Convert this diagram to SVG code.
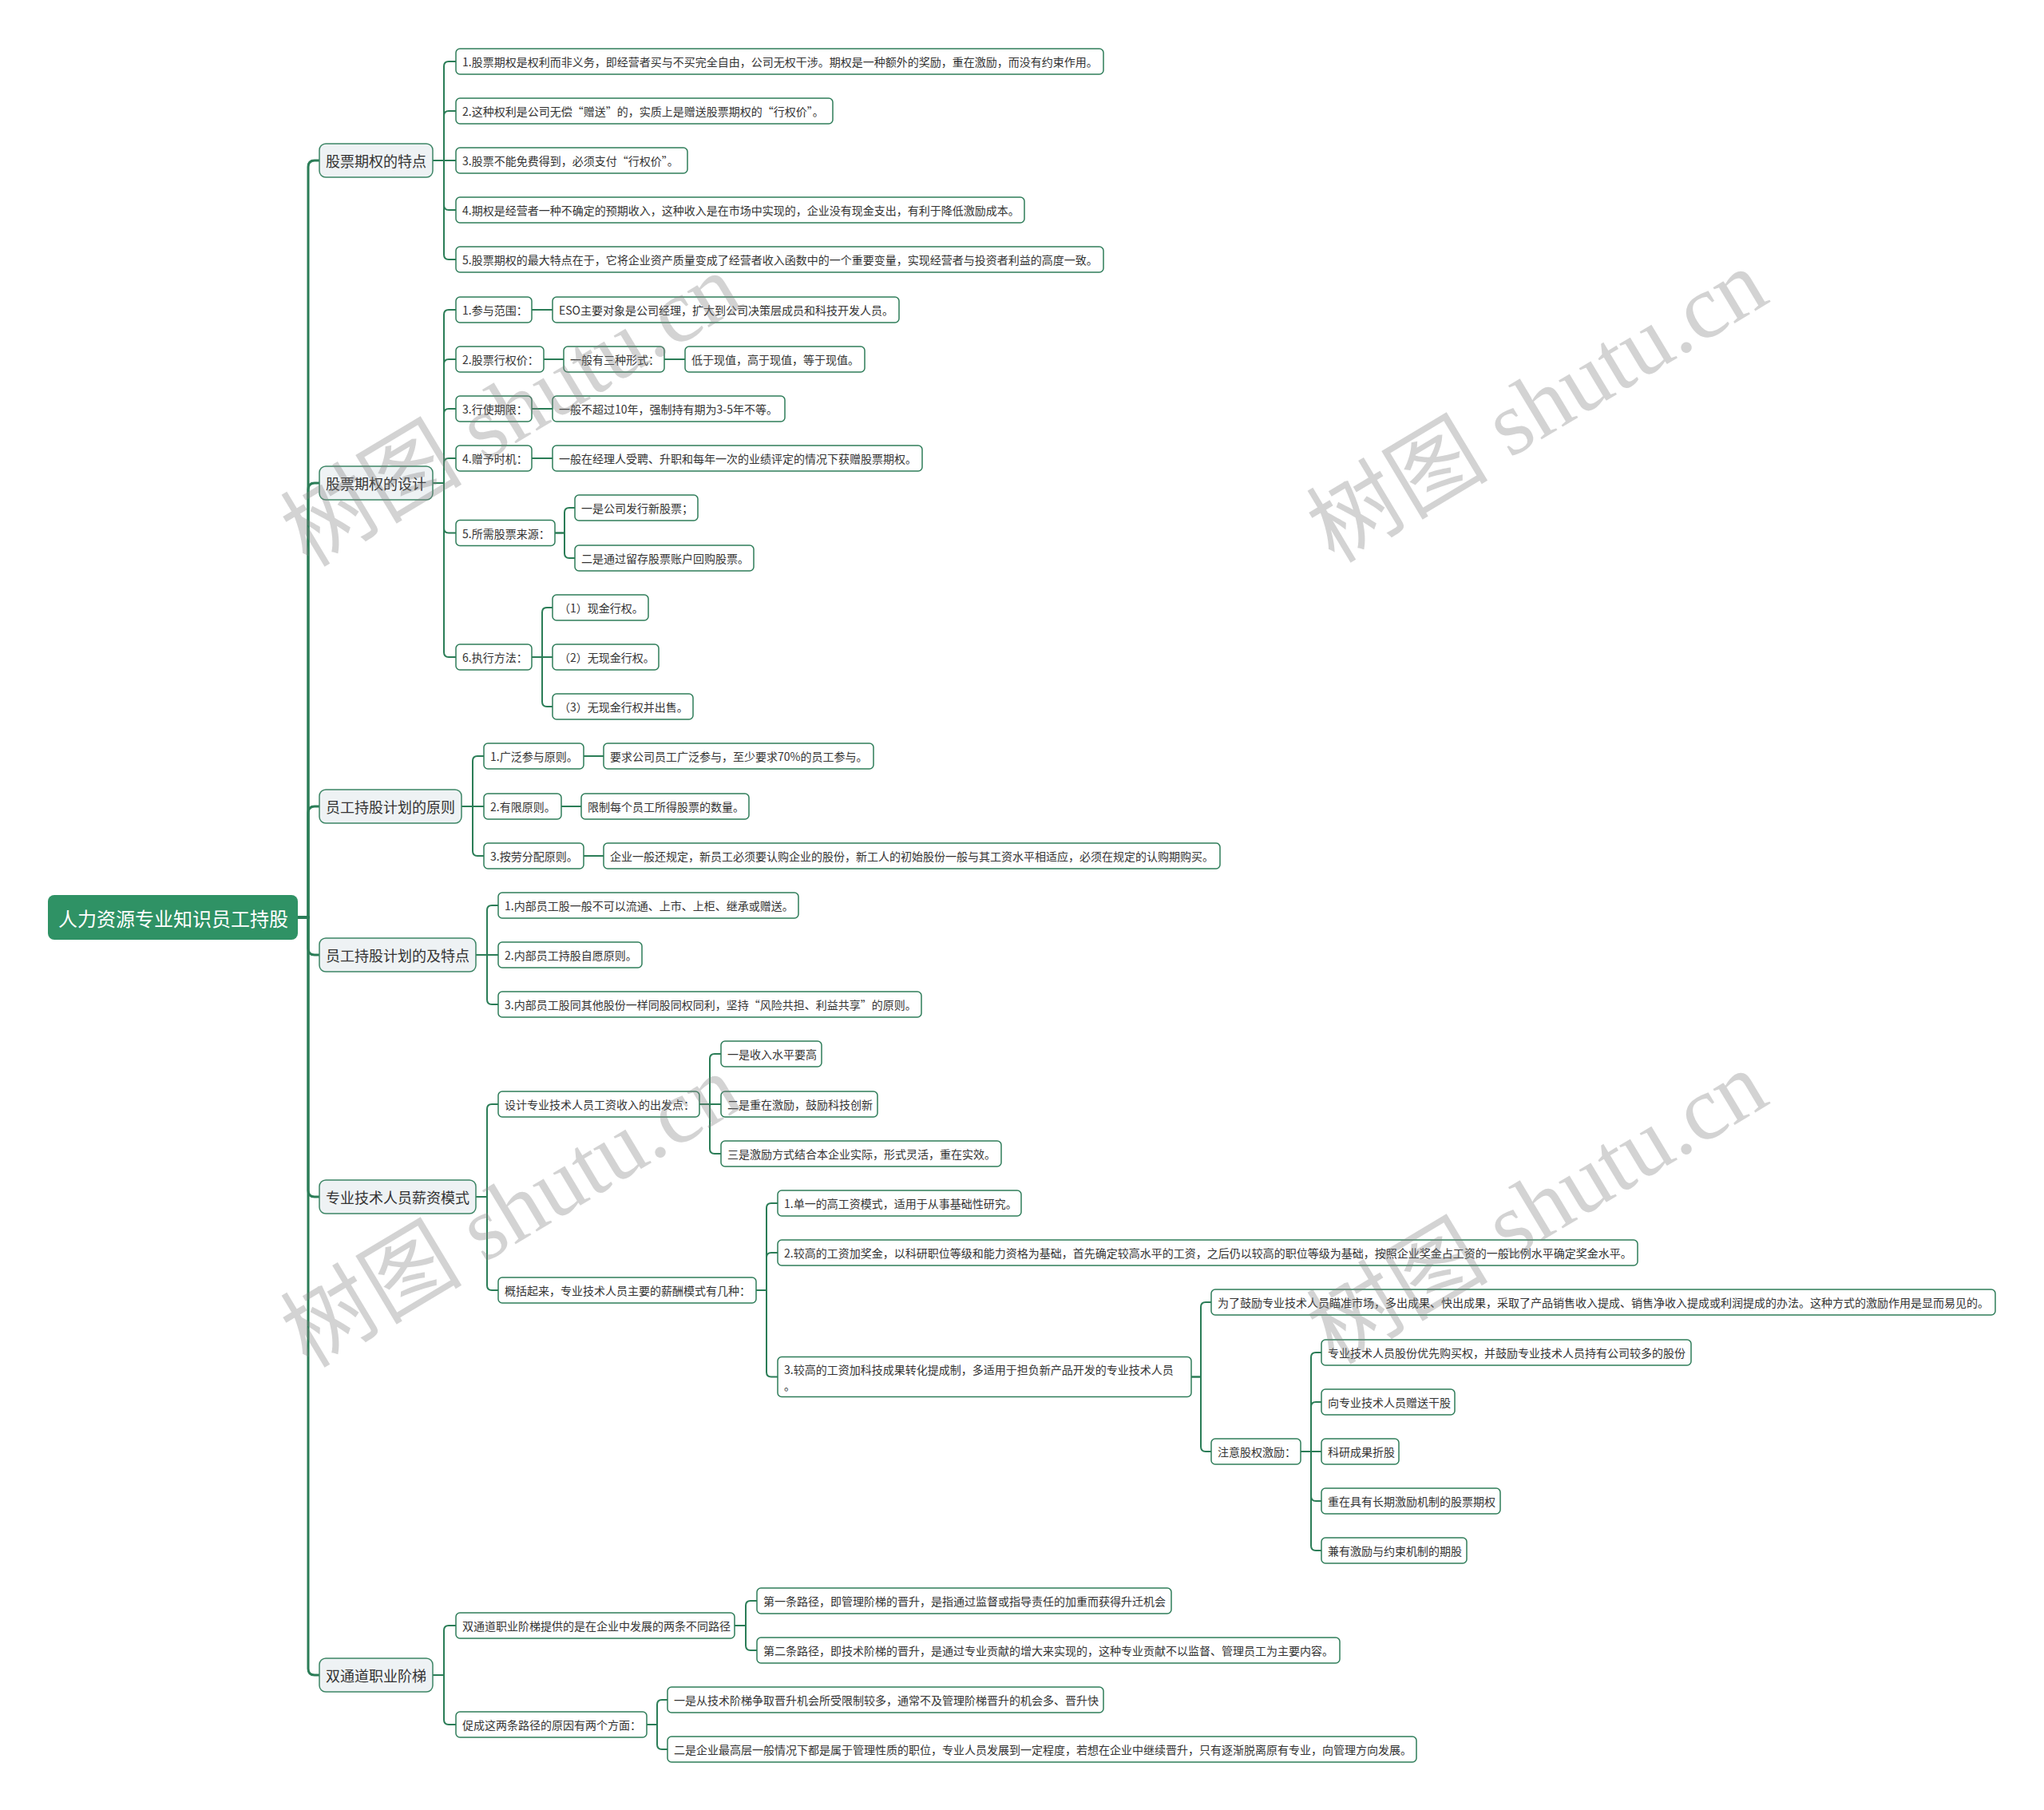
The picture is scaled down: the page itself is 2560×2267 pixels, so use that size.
<svg xmlns="http://www.w3.org/2000/svg" width="2560" height="2267" viewBox="0 0 2560 2267">
<style>
.c{fill:none;stroke:#2b7d57;stroke-width:2}
.tr{fill:none;stroke:#2b7d57;stroke-width:3}
.n rect{fill:#fff;stroke:#2f7d5a;stroke-width:1.5}
.l1 rect{fill:#eef2f4;stroke:#3c8565;stroke-width:1.5}
text{font-family:"Noto Sans CJK SC","Microsoft YaHei",sans-serif;dominant-baseline:central;fill:#333}
.n text{font-size:14px}
.l1 text{font-size:18px}
.root rect{fill:#2f9265}
.root text{font-size:24px;fill:#fff}
.wm{font-family:"Liberation Serif","Noto Sans CJK SC",serif;font-size:114px;fill:#808080;fill-opacity:0.35;dominant-baseline:auto}
</style>
<rect width="2560" height="2267" fill="#fff"/>
<g id="connectors">
<path class="tr" d="M373 1149 H386 V209 Q386 201 394 201 H400"/>
<path class="tr" d="M373 1149 H386 V613 Q386 605 394 605 H400"/>
<path class="tr" d="M373 1149 H386 V1018 Q386 1010 394 1010 H400"/>
<path class="tr" d="M373 1149 H386 V1188 Q386 1196 394 1196 H400"/>
<path class="tr" d="M373 1149 H386 V1491 Q386 1499 394 1499 H400"/>
<path class="tr" d="M373 1149 H386 V2090 Q386 2098 394 2098 H400"/>
<path class="c" d="M542 201 H556 V83 Q556 77 562 77 H571"/>
<path class="c" d="M542 201 H556 V145 Q556 139 562 139 H571"/>
<path class="c" d="M542 201 H571"/>
<path class="c" d="M542 201 H556 V257 Q556 263 562 263 H571"/>
<path class="c" d="M542 201 H556 V319 Q556 325 562 325 H571"/>
<path class="c" d="M542 605 H556 V394 Q556 388 562 388 H571"/>
<path class="c" d="M542 605 H556 V456 Q556 450 562 450 H571"/>
<path class="c" d="M542 605 H556 V518 Q556 512 562 512 H571"/>
<path class="c" d="M542 605 H556 V580 Q556 574 562 574 H571"/>
<path class="c" d="M542 605 H556 V661.5 Q556 667.5 562 667.5 H571"/>
<path class="c" d="M542 605 H556 V817 Q556 823 562 823 H571"/>
<path class="c" d="M666 388 H692"/>
<path class="c" d="M681 450 H706"/>
<path class="c" d="M832 450 H858"/>
<path class="c" d="M666 512 H692"/>
<path class="c" d="M666 574 H692"/>
<path class="c" d="M695 667.5 H707 V642 Q707 636 713 636 H720"/>
<path class="c" d="M695 667.5 H707 V693 Q707 699 713 699 H720"/>
<path class="c" d="M666 823 H679 V767 Q679 761 685 761 H692"/>
<path class="c" d="M666 823 H692"/>
<path class="c" d="M666 823 H679 V879 Q679 885 685 885 H692"/>
<path class="c" d="M578 1010 H592 V953 Q592 947 598 947 H606"/>
<path class="c" d="M578 1010 H606"/>
<path class="c" d="M578 1010 H592 V1066 Q592 1072 598 1072 H606"/>
<path class="c" d="M731 947 H756"/>
<path class="c" d="M703 1010 H728"/>
<path class="c" d="M731 1072 H756"/>
<path class="c" d="M596 1196 H610 V1140 Q610 1134 616 1134 H624"/>
<path class="c" d="M596 1196 H624"/>
<path class="c" d="M596 1196 H610 V1252 Q610 1258 616 1258 H624"/>
<path class="c" d="M596 1499 H610 V1389 Q610 1383 616 1383 H624"/>
<path class="c" d="M596 1499 H610 V1610 Q610 1616 616 1616 H624"/>
<path class="c" d="M876 1383 H889 V1326 Q889 1320 895 1320 H903"/>
<path class="c" d="M876 1383 H903"/>
<path class="c" d="M876 1383 H889 V1439 Q889 1445 895 1445 H903"/>
<path class="c" d="M947 1616 H960 V1513 Q960 1507 966 1507 H974"/>
<path class="c" d="M947 1616 H960 V1575 Q960 1569 966 1569 H974"/>
<path class="c" d="M947 1616 H960 V1718.5 Q960 1724.5 966 1724.5 H974"/>
<path class="c" d="M1492 1724.5 H1504 V1637 Q1504 1631 1510 1631 H1517"/>
<path class="c" d="M1492 1724.5 H1504 V1812 Q1504 1818 1510 1818 H1517"/>
<path class="c" d="M1629 1818 H1642 V1700 Q1642 1694 1648 1694 H1655"/>
<path class="c" d="M1629 1818 H1642 V1762 Q1642 1756 1648 1756 H1655"/>
<path class="c" d="M1629 1818 H1655"/>
<path class="c" d="M1629 1818 H1642 V1874 Q1642 1880 1648 1880 H1655"/>
<path class="c" d="M1629 1818 H1642 V1936 Q1642 1942 1648 1942 H1655"/>
<path class="c" d="M542 2098 H556 V2042 Q556 2036 562 2036 H571"/>
<path class="c" d="M542 2098 H556 V2154 Q556 2160 562 2160 H571"/>
<path class="c" d="M920 2036 H934 V2011 Q934 2005 940 2005 H948"/>
<path class="c" d="M920 2036 H934 V2061 Q934 2067 940 2067 H948"/>
<path class="c" d="M810 2160 H823 V2135 Q823 2129 829 2129 H836"/>
<path class="c" d="M810 2160 H823 V2185 Q823 2191 829 2191 H836"/>
</g>
<g id="root" class="root"><rect x="60" y="1121" width="313" height="56" rx="8"/><text x="73" y="1149">人力资源专业知识员工持股</text></g>
<g id="a" class="l1"><rect x="400" y="180" width="142" height="42" rx="8"/><text x="408" y="201">股票期权的特点</text></g>
<g id="a1" class="n"><rect x="571" y="61" width="811" height="32" rx="5"/><text x="579" y="77">1.股票期权是权利而非义务，即经营者买与不买完全自由，公司无权干涉。期权是一种额外的奖励，重在激励，而没有约束作用。</text></g>
<g id="a2" class="n"><rect x="571" y="123" width="472" height="32" rx="5"/><text x="579" y="139">2.这种权利是公司无偿“赠送”的，实质上是赠送股票期权的“行权价”。</text></g>
<g id="a3" class="n"><rect x="571" y="185" width="290" height="32" rx="5"/><text x="579" y="201">3.股票不能免费得到，必须支付“行权价”。</text></g>
<g id="a4" class="n"><rect x="571" y="247" width="712" height="32" rx="5"/><text x="579" y="263">4.期权是经营者一种不确定的预期收入，这种收入是在市场中实现的，企业没有现金支出，有利于降低激励成本。</text></g>
<g id="a5" class="n"><rect x="571" y="309" width="811" height="32" rx="5"/><text x="579" y="325">5.股票期权的最大特点在于，它将企业资产质量变成了经营者收入函数中的一个重要变量，实现经营者与投资者利益的高度一致。</text></g>
<g id="b" class="l1"><rect x="400" y="584" width="142" height="42" rx="8"/><text x="408" y="605">股票期权的设计</text></g>
<g id="b1" class="n"><rect x="571" y="372" width="95" height="32" rx="5"/><text x="579" y="388">1.参与范围：</text></g>
<g id="b1a" class="n"><rect x="692" y="372" width="434" height="32" rx="5"/><text x="700" y="388">ESO主要对象是公司经理，扩大到公司决策层成员和科技开发人员。</text></g>
<g id="b2" class="n"><rect x="571" y="434" width="110" height="32" rx="5"/><text x="579" y="450">2.股票行权价：</text></g>
<g id="b2a" class="n"><rect x="706" y="434" width="126" height="32" rx="5"/><text x="714" y="450">一般有三种形式：</text></g>
<g id="b2b" class="n"><rect x="858" y="434" width="225" height="32" rx="5"/><text x="866" y="450">低于现值，高于现值，等于现值。</text></g>
<g id="b3" class="n"><rect x="571" y="496" width="95" height="32" rx="5"/><text x="579" y="512">3.行使期限：</text></g>
<g id="b3a" class="n"><rect x="692" y="496" width="291" height="32" rx="5"/><text x="700" y="512">一般不超过10年，强制持有期为3-5年不等。</text></g>
<g id="b4" class="n"><rect x="571" y="558" width="95" height="32" rx="5"/><text x="579" y="574">4.赠予时机：</text></g>
<g id="b4a" class="n"><rect x="692" y="558" width="463" height="32" rx="5"/><text x="700" y="574">一般在经理人受聘、升职和每年一次的业绩评定的情况下获赠股票期权。</text></g>
<g id="b5" class="n"><rect x="571" y="651.5" width="124" height="32" rx="5"/><text x="579" y="667.5">5.所需股票来源：</text></g>
<g id="b5a" class="n"><rect x="720" y="620" width="154" height="32" rx="5"/><text x="728" y="636">一是公司发行新股票；</text></g>
<g id="b5b" class="n"><rect x="720" y="683" width="224" height="32" rx="5"/><text x="728" y="699">二是通过留存股票账户回购股票。</text></g>
<g id="b6" class="n"><rect x="571" y="807" width="95" height="32" rx="5"/><text x="579" y="823">6.执行方法：</text></g>
<g id="b6a" class="n"><rect x="692" y="745" width="120" height="32" rx="5"/><text x="700" y="761">（1）现金行权。</text></g>
<g id="b6b" class="n"><rect x="692" y="807" width="133" height="32" rx="5"/><text x="700" y="823">（2）无现金行权。</text></g>
<g id="b6c" class="n"><rect x="692" y="869" width="176" height="32" rx="5"/><text x="700" y="885">（3）无现金行权并出售。</text></g>
<g id="c" class="l1"><rect x="400" y="989" width="178" height="42" rx="8"/><text x="408" y="1010">员工持股计划的原则</text></g>
<g id="c1" class="n"><rect x="606" y="931" width="125" height="32" rx="5"/><text x="614" y="947">1.广泛参与原则。</text></g>
<g id="c1a" class="n"><rect x="756" y="931" width="338" height="32" rx="5"/><text x="764" y="947">要求公司员工广泛参与，至少要求70%的员工参与。</text></g>
<g id="c2" class="n"><rect x="606" y="994" width="97" height="32" rx="5"/><text x="614" y="1010">2.有限原则。</text></g>
<g id="c2a" class="n"><rect x="728" y="994" width="210" height="32" rx="5"/><text x="736" y="1010">限制每个员工所得股票的数量。</text></g>
<g id="c3" class="n"><rect x="606" y="1056" width="125" height="32" rx="5"/><text x="614" y="1072">3.按劳分配原则。</text></g>
<g id="c3a" class="n"><rect x="756" y="1056" width="772" height="32" rx="5"/><text x="764" y="1072">企业一般还规定，新员工必须要认购企业的股份，新工人的初始股份一般与其工资水平相适应，必须在规定的认购期购买。</text></g>
<g id="d" class="l1"><rect x="400" y="1175" width="196" height="42" rx="8"/><text x="408" y="1196">员工持股计划的及特点</text></g>
<g id="d1" class="n"><rect x="624" y="1118" width="376" height="32" rx="5"/><text x="632" y="1134">1.内部员工股一般不可以流通、上市、上柜、继承或赠送。</text></g>
<g id="d2" class="n"><rect x="624" y="1180" width="180" height="32" rx="5"/><text x="632" y="1196">2.内部员工持股自愿原则。</text></g>
<g id="d3" class="n"><rect x="624" y="1242" width="530" height="32" rx="5"/><text x="632" y="1258">3.内部员工股同其他股份一样同股同权同利，坚持“风险共担、利益共享”的原则。</text></g>
<g id="e" class="l1"><rect x="400" y="1478" width="196" height="42" rx="8"/><text x="408" y="1499">专业技术人员薪资模式</text></g>
<g id="e1" class="n"><rect x="624" y="1367" width="252" height="32" rx="5"/><text x="632" y="1383">设计专业技术人员工资收入的出发点：</text></g>
<g id="e1a" class="n"><rect x="903" y="1304" width="126" height="32" rx="5"/><text x="911" y="1320">一是收入水平要高</text></g>
<g id="e1b" class="n"><rect x="903" y="1367" width="196" height="32" rx="5"/><text x="911" y="1383">二是重在激励，鼓励科技创新</text></g>
<g id="e1c" class="n"><rect x="903" y="1429" width="351" height="32" rx="5"/><text x="911" y="1445">三是激励方式结合本企业实际，形式灵活，重在实效。</text></g>
<g id="e2" class="n"><rect x="624" y="1600" width="323" height="32" rx="5"/><text x="632" y="1616">概括起来，专业技术人员主要的薪酬模式有几种：</text></g>
<g id="e2a" class="n"><rect x="974" y="1491" width="305" height="32" rx="5"/><text x="982" y="1507">1.单一的高工资模式，适用于从事基础性研究。</text></g>
<g id="e2b" class="n"><rect x="974" y="1553" width="1077" height="32" rx="5"/><text x="982" y="1569">2.较高的工资加奖金，以科研职位等级和能力资格为基础，首先确定较高水平的工资，之后仍以较高的职位等级为基础，按照企业奖金占工资的一般比例水平确定奖金水平。</text></g>
<g id="e2c" class="n"><rect x="974" y="1699.5" width="518" height="50" rx="5"/><text x="982" y="1715">3.较高的工资加科技成果转化提成制，多适用于担负新产品开发的专业技术人员</text><text x="982" y="1735">。</text></g>
<g id="e2c1" class="n"><rect x="1517" y="1615" width="982" height="32" rx="5"/><text x="1525" y="1631">为了鼓励专业技术人员瞄准市场，多出成果、快出成果，采取了产品销售收入提成、销售净收入提成或利润提成的办法。这种方式的激励作用是显而易见的。</text></g>
<g id="e2c2" class="n"><rect x="1517" y="1802" width="112" height="32" rx="5"/><text x="1525" y="1818">注意股权激励：</text></g>
<g id="e2c2a" class="n"><rect x="1655" y="1678" width="463" height="32" rx="5"/><text x="1663" y="1694">专业技术人员股份优先购买权，并鼓励专业技术人员持有公司较多的股份</text></g>
<g id="e2c2b" class="n"><rect x="1655" y="1740" width="167" height="32" rx="5"/><text x="1663" y="1756">向专业技术人员赠送干股</text></g>
<g id="e2c2c" class="n"><rect x="1655" y="1802" width="97" height="32" rx="5"/><text x="1663" y="1818">科研成果折股</text></g>
<g id="e2c2d" class="n"><rect x="1655" y="1864" width="224" height="32" rx="5"/><text x="1663" y="1880">重在具有长期激励机制的股票期权</text></g>
<g id="e2c2e" class="n"><rect x="1655" y="1926" width="182" height="32" rx="5"/><text x="1663" y="1942">兼有激励与约束机制的期股</text></g>
<g id="f" class="l1"><rect x="400" y="2077" width="142" height="42" rx="8"/><text x="408" y="2098">双通道职业阶梯</text></g>
<g id="f1" class="n"><rect x="571" y="2020" width="349" height="32" rx="5"/><text x="579" y="2036">双通道职业阶梯提供的是在企业中发展的两条不同路径</text></g>
<g id="f1a" class="n"><rect x="948" y="1989" width="519" height="32" rx="5"/><text x="956" y="2005">第一条路径，即管理阶梯的晋升，是指通过监督或指导责任的加重而获得升迁机会</text></g>
<g id="f1b" class="n"><rect x="948" y="2051" width="730" height="32" rx="5"/><text x="956" y="2067">第二条路径，即技术阶梯的晋升，是通过专业贡献的增大来实现的，这种专业贡献不以监督、管理员工为主要内容。</text></g>
<g id="f2" class="n"><rect x="571" y="2144" width="239" height="32" rx="5"/><text x="579" y="2160">促成这两条路径的原因有两个方面：</text></g>
<g id="f2a" class="n"><rect x="836" y="2113" width="546" height="32" rx="5"/><text x="844" y="2129">一是从技术阶梯争取晋升机会所受限制较多，通常不及管理阶梯晋升的机会多、晋升快</text></g>
<g id="f2b" class="n"><rect x="836" y="2175" width="938" height="32" rx="5"/><text x="844" y="2191">二是企业最高层一般情况下都是属于管理性质的职位，专业人员发展到一定程度，若想在企业中继续晋升，只有逐渐脱离原有专业，向管理方向发展。</text></g>
<g id="watermarks">
<text class="wm" x="641" y="552" text-anchor="middle" transform="rotate(-31 641 515)">树图 shutu.cn</text>
<text class="wm" x="1926" y="547" text-anchor="middle" transform="rotate(-31 1926 510)">树图 shutu.cn</text>
<text class="wm" x="641" y="1555" text-anchor="middle" transform="rotate(-31 641 1518)">树图 shutu.cn</text>
<text class="wm" x="1926" y="1551" text-anchor="middle" transform="rotate(-31 1926 1514)">树图 shutu.cn</text>
</g>
</svg>
